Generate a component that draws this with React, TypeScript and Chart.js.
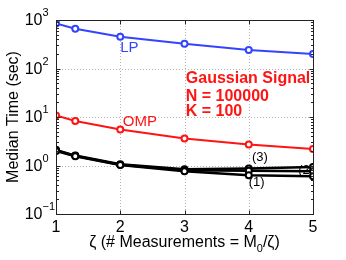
import React, { useEffect, useRef } from "react";
import { Chart, registerables } from "chart.js";

Chart.register(...registerables);

const zeta = [1, 1.3, 2, 3, 4, 5];
const lpTime = [850, 660, 450, 325, 240, 200];
const ompTime = [10.8, 8.3, 5.5, 3.6, 2.7, 2.2];
const series1 = [2.0, 1.55, 1.02, 0.76, 0.63, 0.6];
const series2 = [2.05, 1.58, 1.04, 0.8, 0.78, 0.76];
const series3 = [2.1, 1.6, 1.06, 0.84, 0.87, 0.93];
const xTicks = [1, 2, 3, 4, 5];
const yTicks = [0.1, 1, 10, 100, 1000];
const yTickExponents = ["−1", "0", "1", "2", "3"];

const BLUE = "rgb(51,68,255)";
const RED = "rgb(255,20,20)";
const FONT = "'Liberation Sans', Arial, sans-serif";

const annotations = [
  { text: "LP", x: 2.0, y: 265, color: BLUE, font: `15px ${FONT}`, behind: false },
  { text: "OMP", x: 2.04, y: 7.8, color: RED, font: `15px ${FONT}`, behind: false },
  { text: "(3)", x: 4.05, y: 1.48, color: "#000", font: `13px ${FONT}`, behind: false },
  { text: "(1)", x: 4.0, y: 0.44, color: "#000", font: `13px ${FONT}`, behind: false },
  { text: "(2)", x: 4.77, y: 0.79, color: "#000", font: `13px ${FONT}`, behind: true },
  { text: "Gaussian Signal", x: 3.02, y: 63, color: RED, font: `bold 16px ${FONT}`, behind: false },
  { text: "N = 100000", x: 3.02, y: 26, color: RED, font: `bold 16px ${FONT}`, behind: false },
  { text: "K = 100", x: 3.02, y: 13.2, color: RED, font: `bold 16px ${FONT}`, behind: false },
];

function drawAnn(chart: any, behind: boolean) {
  const ctx = chart.ctx;
  const xs = chart.scales.x;
  const ys = chart.scales.y;
  ctx.save();
  ctx.textAlign = "left";
  ctx.textBaseline = "middle";
  for (const a of annotations) {
    if (a.behind !== behind) continue;
    ctx.font = a.font;
    ctx.fillStyle = a.color;
    ctx.fillText(a.text, xs.getPixelForValue(a.x), ys.getPixelForValue(a.y));
  }
  ctx.restore();
}

const gridPlugin = {
  id: "dotGrid",
  beforeDatasetsDraw(chart: any) {
    const { ctx, chartArea } = chart;
    const xs = chart.scales.x;
    const ys = chart.scales.y;
    ctx.save();
    ctx.strokeStyle = "#b4b4b4";
    ctx.lineWidth = 1;
    ctx.setLineDash([1, 2]);
    ctx.beginPath();
    for (const t of xTicks) {
      const px = Math.round(xs.getPixelForValue(t)) + 0.5;
      ctx.moveTo(px, chartArea.top);
      ctx.lineTo(px, chartArea.bottom);
    }
    for (const v of yTicks) {
      const py = Math.round(ys.getPixelForValue(v)) + 0.5;
      ctx.moveTo(chartArea.left, py);
      ctx.lineTo(chartArea.right, py);
    }
    ctx.stroke();
    ctx.restore();
    drawAnn(chart, true);
  },
  afterDatasetsDraw(chart: any) {
    drawAnn(chart, false);
  },
};

const axesPlugin = {
  id: "axesBox",
  afterDraw(chart: any) {
    const { ctx, chartArea } = chart;
    const xs = chart.scales.x;
    const ys = chart.scales.y;
    const L = Math.round(chartArea.left) + 0.5;
    const R = Math.round(chartArea.right) + 0.5;
    const T = Math.round(chartArea.top) + 0.5;
    const B = Math.round(chartArea.bottom) + 0.5;
    ctx.save();
    ctx.strokeStyle = "#222";
    ctx.lineWidth = 1;
    ctx.strokeRect(L, T, R - L, B - T);
    ctx.beginPath();
    for (let d = 0; d < yTicks.length; d++) {
      for (let m = 1; m <= 9; m++) {
        const v = yTicks[d] * m;
        if (v > 1000) break;
        const py = Math.round(ys.getPixelForValue(v)) + 0.5;
        const len = m === 1 ? 4 : 2.5;
        ctx.moveTo(L, py);
        ctx.lineTo(L + len, py);
        ctx.moveTo(R, py);
        ctx.lineTo(R - len, py);
      }
    }
    for (const t of xTicks) {
      const px = Math.round(xs.getPixelForValue(t)) + 0.5;
      ctx.moveTo(px, B);
      ctx.lineTo(px, B - 4);
      ctx.moveTo(px, T);
      ctx.lineTo(px, T + 4);
    }
    ctx.stroke();

    ctx.fillStyle = "#000";
    ctx.textBaseline = "middle";
    yTicks.forEach((v, i) => {
      const py = ys.getPixelForValue(v);
      const baseRight = L - 14;
      ctx.textAlign = "right";
      ctx.font = `16px ${FONT}`;
      ctx.fillText("10", baseRight, py + 1);
      ctx.textAlign = "left";
      ctx.font = `11px ${FONT}`;
      ctx.fillText(yTickExponents[i], baseRight, py - 7);
    });

    const parts = [
      { t: "ζ (# Measurements = M", size: 16, dy: 0 },
      { t: "0", size: 11, dy: 6 },
      { t: "/ζ)", size: 16, dy: 0 },
    ];
    let total = 0;
    for (const p of parts) {
      ctx.font = `${p.size}px ${FONT}`;
      total += ctx.measureText(p.t).width;
    }
    let x = (chartArea.left + chartArea.right) / 2 - total / 2;
    const y = 243;
    ctx.textAlign = "left";
    for (const p of parts) {
      ctx.font = `${p.size}px ${FONT}`;
      ctx.fillText(p.t, x, y + p.dy);
      x += ctx.measureText(p.t).width;
    }
    ctx.restore();
  },
};

export default function App() {
  const ref = useRef<HTMLCanvasElement>(null);
  useEffect(() => {
    document.body.style.margin = "0";
    const mk = (label: string, data: number[], color: string, width: number) => ({
      label,
      data: zeta.map((x, i) => ({ x, y: data[i] })),
      borderColor: color,
      backgroundColor: "#fff",
      pointBackgroundColor: "#fff",
      pointBorderColor: color,
      borderWidth: width,
      pointRadius: 3,
      pointBorderWidth: 2,
      tension: 0,
    });
    const chart = new Chart(ref.current!, {
      type: "line",
      data: {
        datasets: [
          mk("LP", lpTime, BLUE, 2),
          mk("OMP", ompTime, RED, 2),
          mk("(1)", series1, "#000", 2.5),
          mk("(2)", series2, "#000", 2.5),
          mk("(3)", series3, "#000", 2.5),
        ],
      },
      options: {
        animation: false,
        responsive: false,
        maintainAspectRatio: false,
        layout: { padding: { left: 0, top: 20, right: 33, bottom: 0 } },
        plugins: { legend: { display: false }, tooltip: { enabled: false } },
        scales: {
          x: {
            type: "linear",
            min: 1,
            max: 5,
            afterBuildTicks: (s: any) => {
              s.ticks = xTicks.map((v) => ({ value: v }));
            },
            afterFit: (s: any) => {
              s.height = 46;
            },
            ticks: {
              color: "#000",
              font: { family: FONT, size: 16 },
              padding: 4,
              maxRotation: 0,
            },
            grid: { display: false, drawTicks: false },
            border: { display: false },
            title: { display: false },
          },
          y: {
            type: "logarithmic",
            min: 0.1,
            max: 1000,
            afterBuildTicks: (s: any) => {
              s.ticks = yTicks.map((v) => ({ value: v }));
            },
            afterFit: (s: any) => {
              s.width = 56;
            },
            ticks: { display: false },
            grid: { display: false, drawTicks: false },
            border: { display: false },
            title: {
              display: true,
              text: "Median Time (sec)",
              color: "#000",
              font: { family: FONT, size: 16 },
              padding: { top: 4, bottom: 0 },
            },
          },
        },
      } as any,
      plugins: [gridPlugin, axesPlugin],
    });
    return () => chart.destroy();
  }, []);
  return (
    <div style={{ width: 346, height: 260, background: "#fff" }}>
      <canvas ref={ref} width={346} height={260} style={{ width: 346, height: 260 }} />
    </div>
  );
}
